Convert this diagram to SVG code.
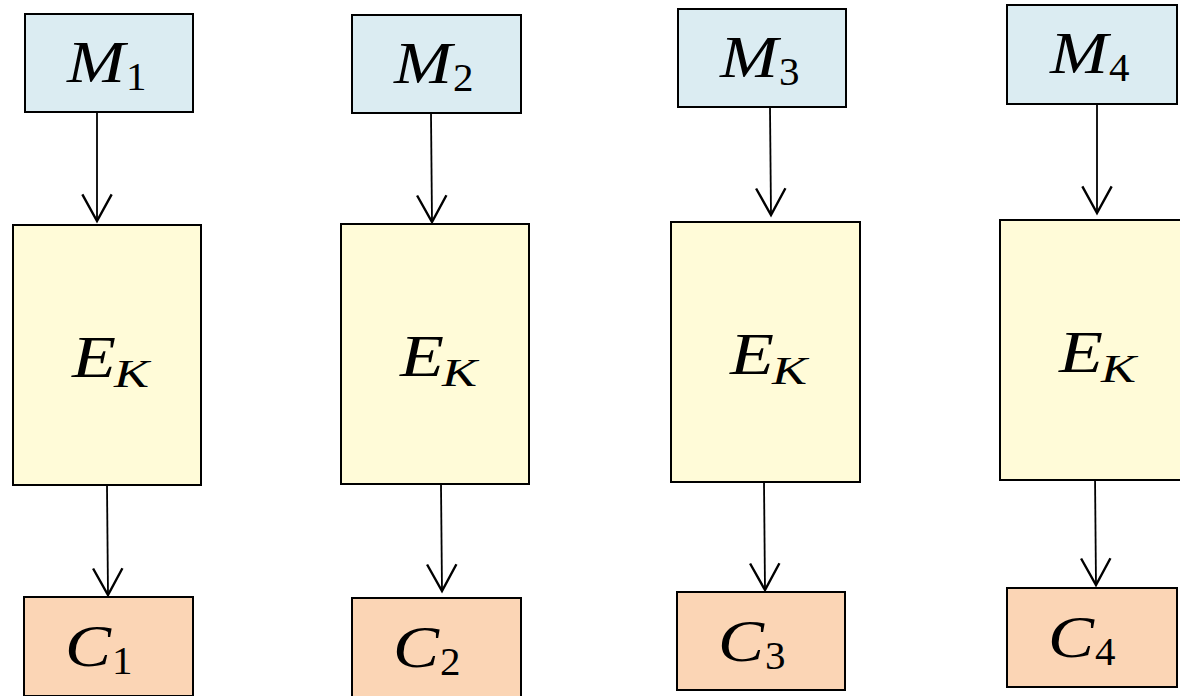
<svg xmlns="http://www.w3.org/2000/svg" width="1180" height="696" viewBox="0 0 1180 696">
<style>
.m{fill:#dbecf2;stroke:#000;stroke-width:2}
.e{fill:#fffbd8;stroke:#000;stroke-width:2}
.c{fill:#fbd5b5;stroke:#000;stroke-width:2}
.big{font-family:"Liberation Serif","Times New Roman",serif;font-style:italic;font-size:60px;fill:#000}
.sub{font-family:"Liberation Serif","Times New Roman",serif;font-size:41px;fill:#000}
.subi{font-family:"Liberation Serif","Times New Roman",serif;font-style:italic;font-size:41px;fill:#000}
.ln{stroke:#000;stroke-width:1.8;fill:none}
</style>
<defs>
<marker id="ah" markerUnits="userSpaceOnUse" markerWidth="40" markerHeight="40" viewBox="-25 -15 30 30" refX="0" refY="0" orient="auto">
<path d="M-20,-11 L0,0 L-20,11" fill="none" stroke="#000" stroke-width="1.8"/>
</marker>
</defs>
<rect width="1180" height="696" fill="#fff"/>
<g id="connectors">
<path class="ln" d="M97,113 L97,221" marker-end="url(#ah)"/>
<path class="ln" d="M107,486 L108,595" marker-end="url(#ah)"/>
<path class="ln" d="M431,114 L432,222" marker-end="url(#ah)"/>
<path class="ln" d="M441,485 L442,591" marker-end="url(#ah)"/>
<path class="ln" d="M770,108 L771,215" marker-end="url(#ah)"/>
<path class="ln" d="M764,482 L765,590" marker-end="url(#ah)"/>
<path class="ln" d="M1097,105 L1097,213" marker-end="url(#ah)"/>
<path class="ln" d="M1095,475 L1096,585" marker-end="url(#ah)"/>
</g>
<g id="M1"><rect class="m" x="25" y="14" width="168" height="98"/><text class="big" x="67" y="82" textLength="58" lengthAdjust="spacingAndGlyphs">M</text><text class="sub" x="126" y="90">1</text></g>
<g id="M2"><rect class="m" x="352" y="15" width="169" height="98"/><text class="big" x="394" y="83" textLength="58" lengthAdjust="spacingAndGlyphs">M</text><text class="sub" x="453" y="91">2</text></g>
<g id="M3"><rect class="m" x="678" y="9" width="168" height="98"/><text class="big" x="720" y="77" textLength="58" lengthAdjust="spacingAndGlyphs">M</text><text class="sub" x="779" y="85">3</text></g>
<g id="M4"><rect class="m" x="1007" y="5" width="170" height="99"/><text class="big" x="1050" y="73" textLength="58" lengthAdjust="spacingAndGlyphs">M</text><text class="sub" x="1109" y="81">4</text></g>
<g id="E1"><rect class="e" x="13" y="225" width="188" height="260"/><text class="big" x="72" y="377" textLength="44" lengthAdjust="spacingAndGlyphs">E</text><text class="subi" x="114" y="387" textLength="35" lengthAdjust="spacingAndGlyphs">K</text></g>
<g id="E2"><rect class="e" x="341" y="224" width="188" height="260"/><text class="big" x="400" y="376" textLength="44" lengthAdjust="spacingAndGlyphs">E</text><text class="subi" x="442" y="386" textLength="35" lengthAdjust="spacingAndGlyphs">K</text></g>
<g id="E3"><rect class="e" x="671" y="222" width="189" height="260"/><text class="big" x="730" y="374" textLength="44" lengthAdjust="spacingAndGlyphs">E</text><text class="subi" x="772" y="384" textLength="35" lengthAdjust="spacingAndGlyphs">K</text></g>
<g id="E4"><rect class="e" x="1000" y="220" width="189" height="260"/><text class="big" x="1059" y="372" textLength="44" lengthAdjust="spacingAndGlyphs">E</text><text class="subi" x="1101" y="382" textLength="35" lengthAdjust="spacingAndGlyphs">K</text></g>
<g id="C1"><rect class="c" x="24" y="597" width="169" height="99"/><text class="big" x="65" y="666" textLength="46" lengthAdjust="spacingAndGlyphs">C</text><text class="sub" x="112" y="674">1</text></g>
<g id="C2"><rect class="c" x="352" y="598" width="169" height="99"/><text class="big" x="393" y="667" textLength="46" lengthAdjust="spacingAndGlyphs">C</text><text class="sub" x="440" y="675">2</text></g>
<g id="C3"><rect class="c" x="677" y="592" width="168" height="98"/><text class="big" x="718" y="661" textLength="46" lengthAdjust="spacingAndGlyphs">C</text><text class="sub" x="765" y="669">3</text></g>
<g id="C4"><rect class="c" x="1007" y="588" width="170" height="99"/><text class="big" x="1048" y="657" textLength="46" lengthAdjust="spacingAndGlyphs">C</text><text class="sub" x="1095" y="665">4</text></g>
</svg>
